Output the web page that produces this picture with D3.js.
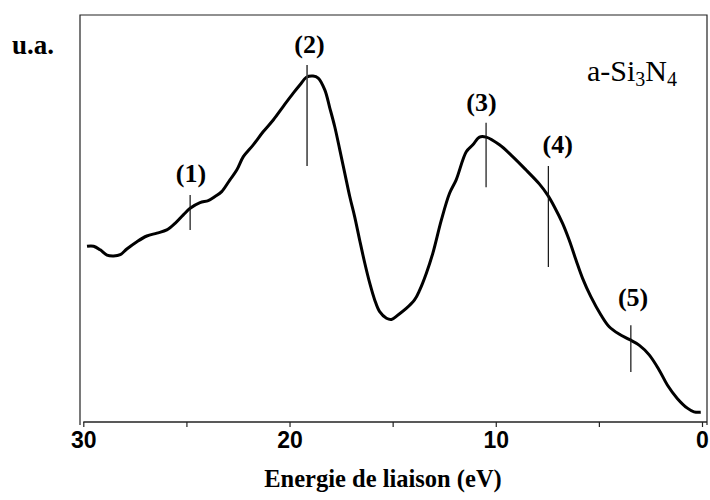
<!DOCTYPE html>
<html>
<head>
<meta charset="utf-8">
<script src="https://cdn.jsdelivr.net/npm/d3@7/dist/d3.min.js"></script>
<style>
  html, body { margin: 0; padding: 0; background: #fff; }
  svg { display: block; }
</style>
</head>
<body>
<svg id="chart" width="710" height="500"></svg>
<script>
// Binding energy (eV) of the valence-band spectrum, high to low
const energy = [
  29.82, 29.50, 29.18, 28.85, 28.53, 28.21, 27.89, 27.40, 26.92, 26.43,
  25.95, 25.55, 25.15, 24.82, 24.34, 23.94, 23.61, 23.29, 22.89, 22.56,
  22.24, 21.76, 21.28, 20.79, 20.31, 19.82, 19.50, 19.18, 18.86, 18.61,
  18.29, 18.05, 17.81, 17.56, 17.32, 17.08, 16.84, 16.60, 16.35, 16.11,
  15.87, 15.63, 15.30, 15.06, 14.74, 14.34, 13.94, 13.69, 13.37, 13.05,
  12.64, 12.24, 11.92, 11.43, 11.11, 10.79, 10.47, 9.82, 9.18, 8.53,
  7.89, 7.49, 7.16, 6.76, 6.44, 6.11, 5.79, 5.39, 4.90, 4.50,
  4.02, 3.53, 3.05, 2.56, 2.08, 1.68, 1.20, 0.71, 0.39, 0.06
];
// Intensity (arbitrary units)
const intensity = [
  43.2, 43.2, 42.3, 41.0, 40.8, 41.1, 42.5, 44.3, 45.7, 46.4,
  47.2, 48.8, 50.9, 52.5, 53.9, 54.4, 55.4, 56.6, 59.5, 61.9,
  65.2, 68.1, 71.3, 74.2, 77.5, 80.8, 82.8, 84.7, 85.0, 84.5,
  81.6, 77.2, 72.6, 66.8, 61.1, 55.4, 50.4, 44.7, 39.0, 34.1,
  30.0, 27.1, 25.5, 25.2, 26.3, 27.9, 30.0, 32.4, 36.5, 41.5,
  49.6, 56.2, 59.5, 66.4, 68.1, 70.0, 70.0, 68.1, 65.2, 61.9,
  58.5, 55.8, 52.9, 48.8, 44.7, 39.8, 35.3, 30.8, 26.3, 23.4,
  21.6, 20.3, 18.9, 16.5, 12.8, 9.1, 5.8, 3.4, 2.5, 2.4
];

// Features (1)-(5): energy of each marker, span of its tick (a.u.)
const featureNames = ["(1)", "(2)", "(3)", "(4)", "(5)"];
const featureEnergy = [24.82, 19.15, 10.47, 7.45, 3.45];
const featureLow = [47.2, 62.9, 57.7, 38.1, 12.3];
const featureHigh = [55.8, 87.7, 73.5, 62.9, 23.8];
// Anchor of each feature label (eV, a.u.)
const labelEnergy = [24.78, 19.03, 10.69, 7.00, 3.34];
const labelLevel = [59.0, 90.7, 76.3, 66.1, 28.4];

const xTicks = [30, 25, 20, 15, 10, 5, 0];
const xTickLabels = ["30", "", "20", "", "10", "", "0"];

const svg = d3.select("#chart");
const serif = "'Liberation Serif', 'Times New Roman', serif";
const sans = "'Liberation Sans', Arial, sans-serif";

const x = d3.scaleLinear().domain([30, 0]).range([83.3, 702]);
const y = d3.scaleLinear().domain([0, 100]).range([422, 15]);

// Plot-area frame (left, top, right)
const frame = svg.append("g").attr("stroke", "#222").attr("stroke-width", 1.2).attr("fill", "none");
frame.append("path").attr("d", `M80,425V15H707V425`);

// Bottom axis
const axis = svg.append("g")
  .attr("transform", `translate(0,${y(0)})`)
  .call(d3.axisBottom(x)
    .tickValues(xTicks)
    .tickFormat((d, i) => xTickLabels[i])
    .tickSize(5)
    .tickSizeOuter(0));
axis.select(".domain").attr("stroke", "#222").attr("stroke-width", 1.4)
  .attr("d", `M${x(30)},0H707`);
axis.selectAll(".tick line").attr("stroke", "#222").attr("stroke-width", 1.2);
axis.selectAll(".tick text")
  .attr("y", 26)
  .attr("dy", 0)
  .attr("fill", "#000")
  .style("font-family", sans)
  .style("font-weight", "bold")
  .style("font-size", "23px");

// Spectrum
const points = energy.map((e, i) => [e, intensity[i]]);
svg.append("path")
  .datum(points)
  .attr("fill", "none")
  .attr("stroke", "#000")
  .attr("stroke-width", 3)
  .attr("stroke-linejoin", "round")
  .attr("d", d3.line().x(d => x(d[0])).y(d => y(d[1])).curve(d3.curveCatmullRom.alpha(0.5)));

// Feature markers and labels
const feats = featureNames.map((n, i) => ({
  name: n, e: featureEnergy[i], lo: featureLow[i], hi: featureHigh[i],
  le: labelEnergy[i], ll: labelLevel[i]
}));
svg.append("g").selectAll("line").data(feats).join("line")
  .attr("x1", d => x(d.e)).attr("x2", d => x(d.e))
  .attr("y1", d => y(d.lo)).attr("y2", d => y(d.hi))
  .attr("stroke", (d, i) => i === 1 ? "#444" : "#111")
  .attr("stroke-width", (d, i) => i === 1 ? 1.6 : 1.2);
svg.append("g").selectAll("text").data(feats).join("text")
  .attr("x", d => x(d.le)).attr("y", d => y(d.ll))
  .attr("text-anchor", "middle")
  .style("font-family", serif)
  .style("font-weight", "bold")
  .style("font-size", "26px")
  .text(d => d.name);

// Y-axis unit
svg.append("text")
  .attr("x", 12).attr("y", 54)
  .style("font-family", serif)
  .style("font-weight", "bold")
  .style("font-size", "27px")
  .text("u.a.");

// Sample name
const sample = svg.append("text")
  .attr("x", 587).attr("y", 81)
  .style("font-family", serif)
  .style("font-size", "30px");
sample.append("tspan").text("a-Si");
sample.append("tspan").attr("dy", 5).style("font-size", "20px").text("3");
sample.append("tspan").attr("dy", -5).text("N");
sample.append("tspan").attr("dy", 5).style("font-size", "20px").text("4");

// X-axis title
svg.append("text")
  .attr("x", 383).attr("y", 487)
  .attr("text-anchor", "middle")
  .style("font-family", serif)
  .style("font-weight", "bold")
  .style("font-size", "24.5px")
  .text("Energie de liaison (eV)");
</script>
</body>
</html>
